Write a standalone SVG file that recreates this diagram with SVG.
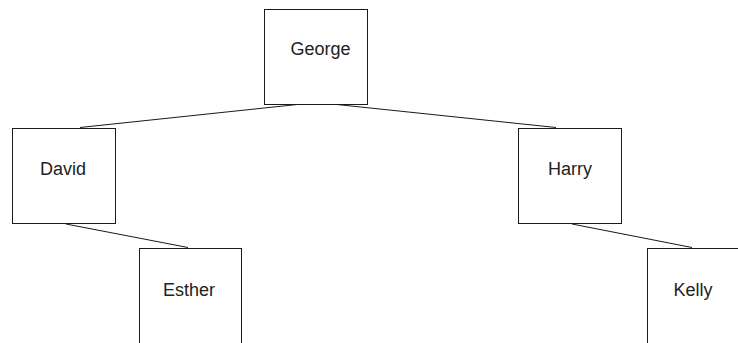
<svg xmlns="http://www.w3.org/2000/svg" width="738" height="343" viewBox="0 0 738 343">
  <style>
    .box { fill: #ffffff; stroke: #1a1a1a; stroke-width: 1; shape-rendering: crispEdges; }
    .edge { stroke: #1a1a1a; stroke-width: 1; fill: none; }
    .label { font-family: "Liberation Sans", Arial, sans-serif; font-size: 18px; fill: #222222; text-anchor: middle; }
  </style>
  <rect width="738" height="343" fill="#ffffff"/>
  <g id="connectors">
    <line class="edge" x1="302" y1="104" x2="80" y2="127.5"/>
    <line class="edge" x1="332" y1="104" x2="556" y2="127.5"/>
    <line class="edge" x1="66" y1="224" x2="188" y2="247.5"/>
    <line class="edge" x1="572" y1="224" x2="692" y2="247.5"/>
  </g>
  <g id="george">
    <rect class="box" x="264.5" y="9.5" width="103" height="95"/>
    <text class="label" x="320.5" y="55">George</text>
  </g>
  <g id="david">
    <rect class="box" x="12.5" y="128.5" width="103" height="95"/>
    <text class="label" x="63" y="175">David</text>
  </g>
  <g id="harry">
    <rect class="box" x="518.5" y="128.5" width="103" height="95"/>
    <text class="label" x="570" y="175">Harry</text>
  </g>
  <g id="esther">
    <rect class="box" x="139.5" y="248.5" width="102" height="110"/>
    <text class="label" x="189" y="296">Esther</text>
  </g>
  <g id="kelly">
    <rect class="box" x="647.5" y="248.5" width="103" height="110"/>
    <text class="label" x="693" y="296">Kelly</text>
  </g>
</svg>
